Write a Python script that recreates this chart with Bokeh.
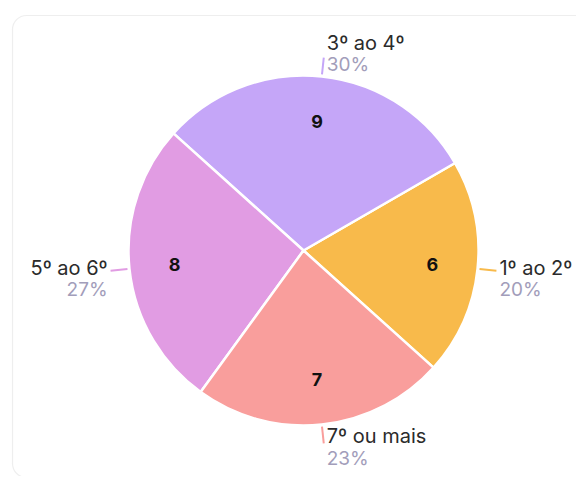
import numpy as np
from bokeh.plotting import figure
from bokeh.models import Range1d, ColumnDataSource, BoxAnnotation
from bokeh.core.properties import value
from bokeh.embed import file_html
from bokeh.resources import INLINE

# ---- data ----
categories = ["1º ao 2º", "3º ao 4º", "5º ao 6º", "7º ou mais"]
counts = [6, 9, 8, 7]
percent_labels = ["20%", "30%", "27%", "23%"]
colors = ["#F8BA4B", "#C5A6F8", "#E19CE3", "#F99E9C"]

# ---- geometry (page pixel space: x = page x, y = 480 - page y) ----
W, H = 576, 476
cx, cy = 303.0, 480 - 250.0
R = 175.0
start_offset = np.deg2rad(-42.0)

vals = np.array(counts, dtype=float)
fr = vals / vals.sum()
ends = start_offset + np.cumsum(fr) * 2 * np.pi
starts = ends - fr * 2 * np.pi
mids = (starts + ends) / 2

p = figure(width=W, height=H, output_backend="svg", toolbar_location=None,
           x_range=Range1d(0, W), y_range=Range1d(480 - H, 480),
           min_border=0, border_fill_color="white", background_fill_color="white")
p.axis.visible = False
p.grid.visible = False
p.outline_line_color = None

# card
p.add_layout(BoxAnnotation(left=12, right=600, bottom=3, top=465,
                           fill_color="white", fill_alpha=1,
                           line_color="#C8C8C8", line_width=1.2,
                           border_radius=14, level="underlay"))

src = ColumnDataSource(dict(start=starts, end=ends, color=colors))
p.wedge(x=cx, y=cy, radius=R, start_angle="start", end_angle="end",
        fill_color="color", line_color="white", line_width=2.5, source=src)

# inside values
rin = 0.74 * R
p.text(x=cx + rin * np.cos(mids), y=cy + rin * np.sin(mids),
       text=[str(c) for c in counts], text_align="center", text_baseline="middle",
       text_font=value("Inter"), text_font_style="bold", text_font_size="18px",
       text_color="#111111")

# leader lines
r1, r2 = R + 2, R + 19
lx0 = cx + r1 * np.cos(mids)
ly0 = cy + r1 * np.sin(mids)
lx1 = cx + r2 * np.cos(mids)
ly1 = cy + r2 * np.sin(mids)
p.segment(x0=lx0, y0=ly0, x1=lx1, y1=ly1, line_color=colors, line_width=2)

# outer labels
cosm, sinm = np.cos(mids), np.sin(mids)
tx = np.where(cosm >= 0, lx1 + 3, lx1 - 3)
align = ["left" if c >= 0 else "right" for c in cosm]
name_dy = np.where(sinm > 0.8, 15, np.where(sinm < -0.8, 7, 3))
pct_dy = name_dy - 22
p.text(x=tx, y=ly1 + name_dy, text=categories, text_align=align,
       text_baseline="middle", text_font=value("Inter"), text_font_size="20px",
       text_color="#2B2B2B")
p.text(x=tx, y=ly1 + pct_dy, text=percent_labels, text_align=align,
       text_baseline="middle", text_font=value("Inter"), text_font_size="19px",
       text_color="#A29DBA")

open("out.html", "w").write(file_html(p, INLINE))
